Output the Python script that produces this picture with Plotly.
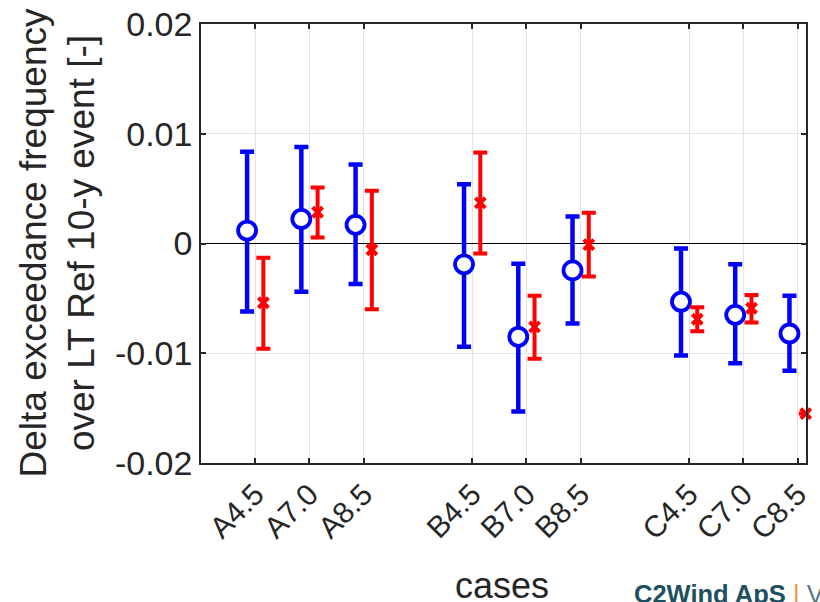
import plotly.graph_objects as go

cases = ["A4.5", "A7.0", "A8.5", "B4.5", "B7.0", "B8.5", "C4.5", "C7.0", "C8.5"]
case_pos = [1, 2, 3, 5, 6, 7, 9, 10, 11]

blue_mid = [0.00118, 0.00224, 0.0017, -0.0019, -0.0085, -0.00245, -0.0053, -0.0065, -0.0082]
blue_hi = [0.00836, 0.0088, 0.0072, 0.0054, -0.00185, 0.00245, -0.00045, -0.0019, -0.00475]
blue_lo = [-0.0062, -0.0044, -0.0037, -0.0094, -0.0153, -0.0073, -0.0102, -0.0109, -0.0116]

red_mid = [-0.0054, 0.00285, -0.00057, 0.0037, -0.0076, -0.0001, -0.0069, -0.0059, -0.0155]
red_hi = [-0.0013, 0.0051, 0.0048, 0.0083, -0.00475, 0.0028, -0.0058, -0.0047, -0.0155]
red_lo = [-0.0096, 0.00055, -0.006, -0.0009, -0.0105, -0.003, -0.0080, -0.0072, -0.0155]

offset = 0.15

fig = go.Figure()

fig.add_trace(go.Scatter(
    x=[p - offset for p in case_pos], y=blue_mid, mode="markers",
    marker=dict(symbol="circle", size=18, color="white",
                line=dict(color="#0000ff", width=3.8)),
    error_y=dict(type="data", symmetric=False,
                 array=[h - m for h, m in zip(blue_hi, blue_mid)],
                 arrayminus=[m - l for m, l in zip(blue_mid, blue_lo)],
                 color="#0000ff", thickness=4.5, width=7),
    showlegend=False,
))

fig.add_trace(go.Scatter(
    x=[p + offset for p in case_pos], y=red_mid, mode="markers",
    marker=dict(symbol="x-thin", size=10, color="#ff0000",
                line=dict(color="#ff0000", width=4)),
    error_y=dict(type="data", symmetric=False,
                 array=[h - m for h, m in zip(red_hi, red_mid)],
                 arrayminus=[m - l for m, l in zip(red_mid, red_lo)],
                 color="#ff0000", thickness=4, width=7),
    showlegend=False,
    cliponaxis=False,
))

fig.update_layout(
    width=820, height=602,
    margin=dict(l=201, r=14, t=24, b=139, autoexpand=False),
    paper_bgcolor="white", plot_bgcolor="white",
    font=dict(family="Arial", color="#262626"),
    xaxis=dict(
        range=[0, 11.155], tickvals=case_pos, ticktext=cases, tickangle=-45,
        tickfont=dict(family="Arial", size=30, color="#262626"),
        showgrid=True, gridcolor="#e3e3e3", gridwidth=1,
        showline=True, linecolor="#262626", linewidth=1.5, mirror="ticks",
        ticks="inside", ticklen=5, tickcolor="#262626", tickwidth=1.5,
        zeroline=False, automargin=False,
    ),
    yaxis=dict(
        range=[-0.02, 0.02], tickvals=[-0.02, -0.01, 0, 0.01, 0.02],
        ticktext=["-0.02", "-0.01", "0", "0.01", "0.02"],
        tickfont=dict(family="Arial", size=34, color="#262626"),
        showgrid=True, gridcolor="#e3e3e3", gridwidth=1,
        showline=True, linecolor="#262626", linewidth=1.5, mirror="ticks",
        ticks="inside", ticklen=5, tickcolor="#262626", tickwidth=1.5,
        zeroline=True, zerolinecolor="#000000", zerolinewidth=1.2,
        automargin=False,
    ),
    annotations=[
        dict(text="Delta exceedance frequency<br>over LT Ref 10-y event [-]",
             xref="paper", yref="paper", x=-0.238, y=0.5, textangle=-90,
             xanchor="center", yanchor="middle", showarrow=False,
             font=dict(family="Arial", size=37, color="#262626")),
        dict(text="cases", xref="paper", yref="paper", x=0.4975, y=-0.28,
             xanchor="center", yanchor="middle", showarrow=False,
             font=dict(family="Arial", size=36, color="#262626")),
        dict(text='<b>C2Wind ApS</b> <span style="color:#e8944f">|</span> <span style="color:#5a7884">V</span>',
             xref="paper", yref="paper", x=0.712, y=-0.262,
             xanchor="left", yanchor="top", showarrow=False,
             font=dict(family="Arial", size=25.5, color="#1e5060")),
    ],
)

fig.write_html("out.html")
